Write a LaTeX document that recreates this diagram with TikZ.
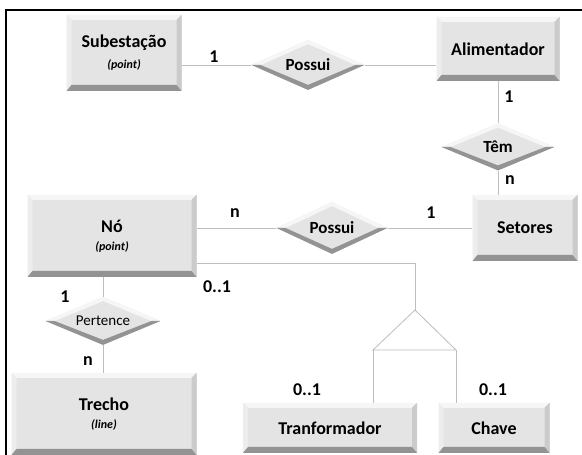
\documentclass[tikz,border=0pt]{standalone}
\usepackage{fontspec}
\setmainfont{Carlito}
\usetikzlibrary{shapes.geometric}

\definecolor{facegray}{HTML}{E4E4E4}
\definecolor{bevlight}{HTML}{F6F6F6}
\definecolor{bevleft}{HTML}{EDEDED}
\definecolor{bevside}{HTML}{CBCBCB}
\definecolor{bevdark}{HTML}{939393}
\definecolor{linkgray}{HTML}{BDBDBD}
\newcommand{\subtypefont}{\fontsize{12}{13}\selectfont\bfseries\itshape}

\begin{document}
\begin{tikzpicture}[x=1pt,y=1pt,node distance=100pt,
    entity/.style={rectangle,fill=facegray,inner sep=0pt,align=center,
      font=\fontsize{18}{19}\selectfont\bfseries,
      path picture={
        \coordinate (sw) at (path picture bounding box.south west);
        \coordinate (ne) at (path picture bounding box.north east);
        \coordinate (nw) at (sw |- ne);
        \coordinate (se) at (sw -| ne);
        \fill[bevlight] (nw) -- (ne) -- ([shift={(-5pt,-5pt)}]ne) -- ([shift={(5pt,-5pt)}]nw) -- cycle;
        \fill[bevleft] (nw) -- (sw) -- ([shift={(5pt,6pt)}]sw) -- ([shift={(5pt,-5pt)}]nw) -- cycle;
        \fill[bevside] (ne) -- (se) -- ([shift={(-5pt,6pt)}]se) -- ([shift={(-5pt,-5pt)}]ne) -- cycle;
        \fill[bevdark] (sw) -- (se) -- ([shift={(-5pt,6pt)}]se) -- ([shift={(5pt,6pt)}]sw) -- cycle;
      }},
    relation/.style={diamond,aspect=2.2,fill=facegray,inner sep=0pt,
      font=\fontsize{17}{18}\selectfont\bfseries,
      path picture={
        \fill[bevlight] (path picture bounding box.west) -- (path picture bounding box.north)
          -- (path picture bounding box.east) -- ([xshift=-9pt]path picture bounding box.east)
          -- ([yshift=-4pt]path picture bounding box.north) -- ([xshift=9pt]path picture bounding box.west) -- cycle;
        \fill[bevdark] (path picture bounding box.west) -- (path picture bounding box.south)
          -- (path picture bounding box.east) -- ([xshift=-9pt]path picture bounding box.east)
          -- ([yshift=5pt]path picture bounding box.south) -- ([xshift=9pt]path picture bounding box.west) -- cycle;
      }},
    card/.style={font=\fontsize{18}{19}\selectfont\bfseries,inner sep=0pt},
    link/.style={draw=linkgray,line width=0.8pt}]

  \useasboundingbox (0,0) rectangle (582,455);
  \fill[white] (0,0) rectangle (582,455);
  \draw[line width=1.5pt] (6,0) -- (6,445) -- (582,445);

  % entidades e relacionamentos
  \node[entity,minimum width=115pt,minimum height=76pt] (sub) at (124,402)
    {Subestação\\[2pt]{\subtypefont(point)}};
  \node[relation,minimum width=113pt,minimum height=50pt] (poss1) [right of=sub,node distance=184pt,yshift=-12pt] {Possui};
  \node[entity,minimum width=123pt,minimum height=64pt] (alim) [right of=poss1,node distance=190pt,yshift=16pt] {Alimentador};
  \node[relation,minimum width=113pt,minimum height=47pt] (tem) [below of=alim,node distance=98pt] {Têm};
  \node[entity,minimum width=105pt,minimum height=66pt] (set) at (525,227) {Setores};
  \node[relation,minimum width=111pt,minimum height=52pt] (poss2) [left of=set,node distance=193pt] {Possui};
  \node[entity,minimum width=169pt,minimum height=82pt] (no) [left of=poss2,node distance=220pt,yshift=-8pt]
    {Nó\\[-1pt]{\subtypefont(point)}};
  \node[relation,minimum width=115pt,minimum height=48pt,font=\fontsize{15}{16}\selectfont] (pert) at (103,134) {Pertence};
  \node[entity,minimum width=185pt,minimum height=82pt] (trecho) at (104,41)
    {Trecho\\[-1pt]{\subtypefont(line)}};
  \node[entity,minimum width=174pt,minimum height=50pt] (trans) at (330,27) {Tranformador};
  \node[entity,minimum width=111pt,minimum height=50pt] (chave) [right of=trans,node distance=164pt] {Chave};

  % especializacao
  \coordinate (gen) at (415,145);
  \coordinate (genL) at (373,105);
  \coordinate (genR) at (456,105);
  \coordinate (bend) at (415,192);

  % ligacoes
  \draw[link] (poss1.west -| sub.east) -- (poss1.west);
  \draw[link] (poss1.east) -- (poss1.east -| alim.west);
  \draw[link] (alim.south) -- (tem.north);
  \draw[link] (tem.south) -- (tem.south |- set.north);
  \draw[link] (poss2.east) -- (set.west);
  \draw[link] (poss2.west -| no.east) -- (poss2.west);
  \draw[link] (pert.north) -- (pert.north |- no.south);
  \draw[link] (pert.south) -- (pert.south |- trecho.north);
  \draw[link] (bend -| no.east) -- (bend) -- (gen);
  \draw[link] (gen) -- (genL) -- (genR) -- cycle;
  \draw[link] (genL) -- (genL |- trans.north);
  \draw[link] (genR) -- (genR |- chave.north);

  % cardinalidades
  \node[card] (c1) at (214,398) {1};
  \node[card] (c2) at (509,358) {1};
  \node[card] (c3) at (510,275) {n};
  \node[card] (c4) at (431,242) {1};
  \node[card] (c5) at (235,242) {n};
  \node[card] (c6) at (217,168) {0..1};
  \node[card] (c7) at (65,158) {1};
  \node[card] (c8) at (88,94) {n};
  \node[card] (c9) at (307,65) {0..1};
  \node[card] (c10) at (493,65) {0..1};
\end{tikzpicture}
\end{document}
